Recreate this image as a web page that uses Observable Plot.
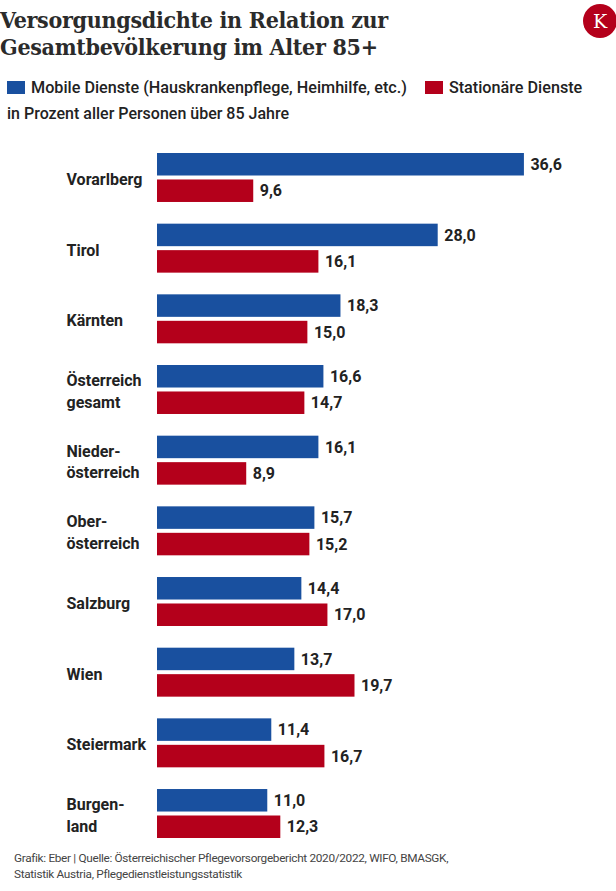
<!DOCTYPE html>
<html><head><meta charset="utf-8">
<script src="https://cdn.jsdelivr.net/npm/d3@7"></script>
<script src="https://cdn.jsdelivr.net/npm/@observablehq/plot@0.6"></script>
<style>
body{margin:0;background:#fff;font-family:Roboto,sans-serif;color:#222;}
#wrap{position:relative;width:616px;height:891px;overflow:hidden;background:#fff;}
#title{position:absolute;left:0;top:6px;font-family:"DejaVu Serif",serif;font-weight:700;font-size:23px;line-height:27px;font-stretch:condensed;color:#2b2b2b;letter-spacing:-0.3px;}
#logo{position:absolute;left:583px;top:4px;}
#legend{position:absolute;left:7px;top:78px;display:flex;align-items:center;font-size:16.2px;font-weight:500;color:#222;}
.sw{display:inline-block;width:18px;height:13px;margin-right:6px;}
.item{display:flex;align-items:center;margin-right:18px;}
#sub{position:absolute;left:7px;top:104px;font-size:16px;font-weight:500;color:#222;}
#chart{position:absolute;left:0;top:140px;}
#foot{position:absolute;left:14px;top:850px;font-size:11.8px;line-height:16px;color:#444;letter-spacing:-0.32px;}
</style></head>
<body><div id="wrap">
<div id="title">Versorgungsdichte in Relation zur<br>Gesamtbevölkerung im Alter 85+</div>
<svg id="logo" width="34" height="34"><circle cx="17" cy="17" r="17" fill="#b4001b"/><text x="17" y="24" text-anchor="middle" fill="#fff" font-family="DejaVu Serif, serif" font-size="19">K</text></svg>
<div id="legend"></div>
<div id="sub">in Prozent aller Personen über 85 Jahre</div>
<div id="chart"></div>
<div id="foot">Grafik: Eber | Quelle: Österreichischer Pflegevorsorgebericht 2020/2022, WIFO, BMASGK,<br>Statistik Austria, Pflegedienstleistungsstatistik</div>
</div>
<script>
const regions = ["Vorarlberg","Tirol","Kärnten","Österreich\ngesamt","Nieder-\nösterreich","Ober-\nösterreich","Salzburg","Wien","Steiermark","Burgen-\nland"];
const mobile = [36.6,28.0,18.3,16.6,16.1,15.7,14.4,13.7,11.4,11.0];
const stationaer = [9.6,16.1,15.0,14.7,8.9,15.2,17.0,19.7,16.7,12.3];
const seriesNames = ["Mobile Dienste (Hauskrankenpflege, Heimhilfe, etc.)","Stationäre Dienste"];
const colors = ["#19509f","#b4001b"];

const data = regions.flatMap((r,i)=>[
  {region:r, series:seriesNames[0], value:mobile[i]},
  {region:r, series:seriesNames[1], value:stationaer[i]}
]);
const fmt = v => v.toFixed(1).replace(".", ",");

const leg = document.getElementById("legend");
seriesNames.forEach((s,i)=>{
  const it = document.createElement("div"); it.className="item";
  it.innerHTML = `<span class="sw" style="background:${colors[i]}"></span><span>${s}</span>`;
  leg.appendChild(it);
});

const chart = Plot.plot({
  width:616, height:703, marginLeft:157, marginRight:58, marginTop:13, marginBottom:5,
  x:{domain:[0,40], axis:null},
  y:{domain:seriesNames, axis:null, paddingInner:0.15, paddingOuter:0, round:false},
  fy:{domain:regions, axis:null, paddingInner:0.307, paddingOuter:0, round:false},
  color:{domain:seriesNames, range:colors},
  style:{fontFamily:"Roboto, sans-serif", background:"#fff"},
  marks:[
    Plot.barX(data,{x:"value", y:"series", fy:"region", fill:"series"}),
    Plot.text(data,{x:"value", y:"series", fy:"region", text:d=>fmt(d.value), textAnchor:"start", dx:6, fontWeight:700, fontSize:16, fill:"#222"}),
    Plot.text(regions,{fy:d=>d, text:d=>d, frameAnchor:"left", textAnchor:"start", dx:-91, fontWeight:700, fontSize:16, lineHeight:1.35, fill:"#222"})
  ]
});
document.getElementById("chart").appendChild(chart);
</script>
</body></html>
